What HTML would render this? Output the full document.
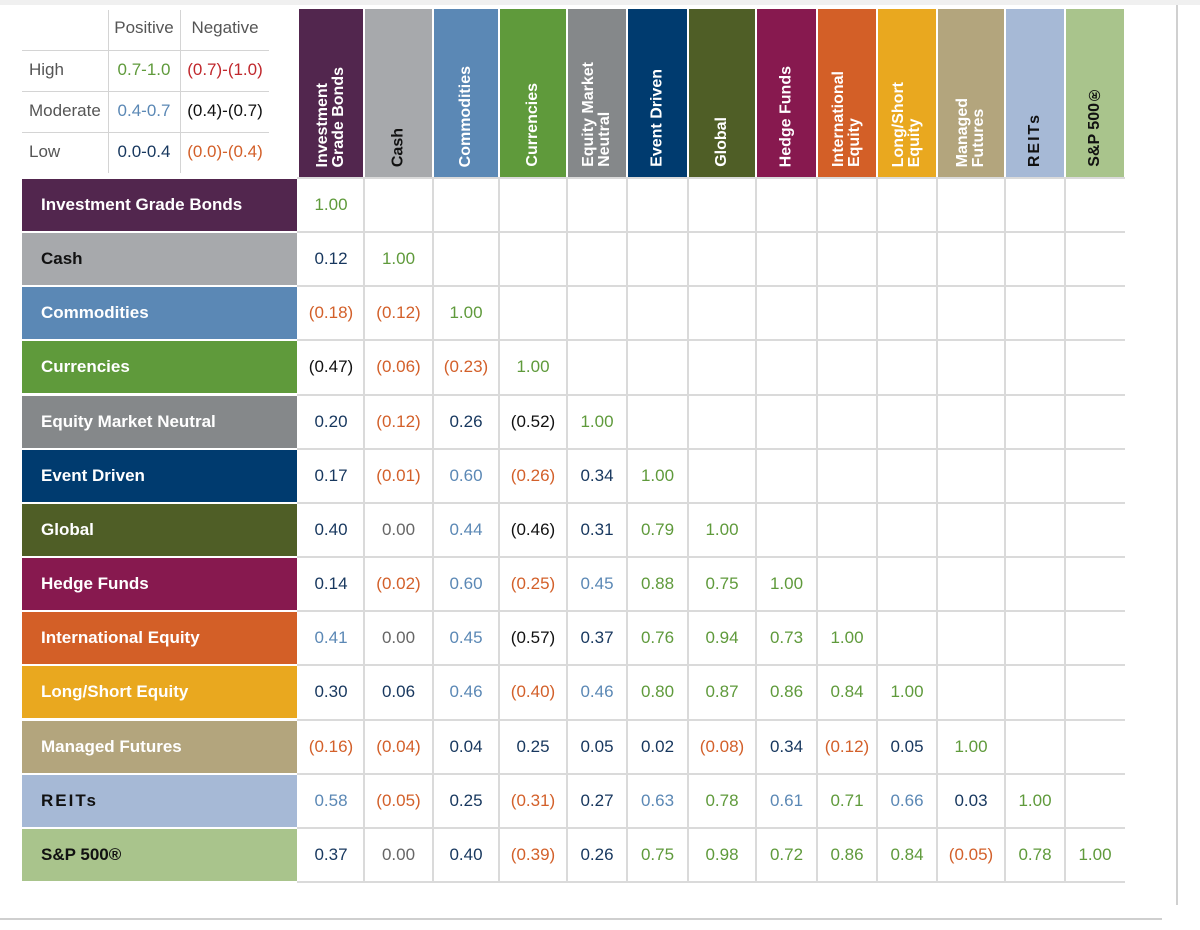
<!DOCTYPE html>
<html><head><meta charset="utf-8">
<style>
html,body{margin:0;padding:0;background:#fff;}
body{width:1200px;height:930px;position:relative;overflow:hidden;font-family:"Liberation Sans",sans-serif;}
.abs{position:absolute;}
.hdr{position:absolute;top:9px;height:168px;box-sizing:border-box;}
.hdr span{position:absolute;left:0;right:0;bottom:10px;writing-mode:vertical-rl;transform:rotate(180deg);font-size:16px;font-weight:bold;line-height:16px;text-align:left;display:flex;align-items:center;justify-content:center;height:auto;}
.rowlab{position:absolute;left:22px;width:275px;height:52px;font-size:17px;font-weight:600;line-height:52px;padding-left:19px;box-sizing:border-box;}
.cell{position:absolute;height:54px;line-height:54px;text-align:center;font-size:17px;}
.lg{position:absolute;font-size:17px;color:#555;}
</style></head><body>
<div class="abs" style="left:0;top:0;width:1200px;height:5px;background:#f0f0f0"></div>
<div class="abs" style="left:1176px;top:5px;width:2px;height:900px;background:#d0d0d0"></div>
<div class="abs" style="left:0;top:918px;width:1162px;height:2px;background:#cfcfcf"></div>

<div>
<div class="abs" style="left:108px;top:10px;width:1px;height:163px;background:#d4d4d4"></div>
<div class="abs" style="left:180px;top:10px;width:1px;height:163px;background:#d4d4d4"></div>
<div class="abs" style="left:22px;top:50px;width:247px;height:1px;background:#d4d4d4"></div>
<div class="abs" style="left:22px;top:91px;width:247px;height:1px;background:#d4d4d4"></div>
<div class="abs" style="left:22px;top:132px;width:247px;height:1px;background:#d4d4d4"></div>
<div class="lg" style="left:108px;width:72px;top:18px;text-align:center">Positive</div>
<div class="lg" style="left:180px;width:90px;top:18px;text-align:center">Negative</div>
<div class="lg" style="left:29px;top:60px">High</div>
<div class="lg" style="left:29px;top:101px">Moderate</div>
<div class="lg" style="left:29px;top:142px">Low</div>
<div class="lg" style="left:108px;width:72px;top:60px;text-align:center;color:#5f9a3b">0.7-1.0</div>
<div class="lg" style="left:180px;width:90px;top:60px;text-align:center;color:#c0282d">(0.7)-(1.0)</div>
<div class="lg" style="left:108px;width:72px;top:101px;text-align:center;color:#5b88b5">0.4-0.7</div>
<div class="lg" style="left:180px;width:90px;top:101px;text-align:center;color:#111">(0.4)-(0.7)</div>
<div class="lg" style="left:108px;width:72px;top:142px;text-align:center;color:#17375e">0.0-0.4</div>
<div class="lg" style="left:180px;width:90px;top:142px;text-align:center;color:#d3602a">(0.0)-(0.4)</div>
</div>

<div id="matrix"></div>

<script>
const categories = ["Investment Grade Bonds","Cash","Commodities","Currencies","Equity Market Neutral","Event Driven","Global","Hedge Funds","International Equity","Long/Short Equity","Managed Futures","REITs","S&P 500®"];
const headerLines = [["Investment","Grade Bonds"],["Cash"],["Commodities"],["Currencies"],["Equity Market","Neutral"],["Event Driven"],["Global"],["Hedge Funds"],["International","Equity"],["Long/Short","Equity"],["Managed","Futures"],["REITs"],["S&P 500®"]];
const rowIGB = [1.00];
const rowCash = [0.12,1.00];
const rowCommodities = [-0.18,-0.12,1.00];
const rowCurrencies = [-0.47,-0.06,-0.23,1.00];
const rowEMN = [0.20,-0.12,0.26,-0.52,1.00];
const rowEventDriven = [0.17,-0.01,0.60,-0.26,0.34,1.00];
const rowGlobal = [0.40,0.00,0.44,-0.46,0.31,0.79,1.00];
const rowHedgeFunds = [0.14,-0.02,0.60,-0.25,0.45,0.88,0.75,1.00];
const rowIntlEquity = [0.41,0.00,0.45,-0.57,0.37,0.76,0.94,0.73,1.00];
const rowLongShort = [0.30,0.06,0.46,-0.40,0.46,0.80,0.87,0.86,0.84,1.00];
const rowManagedFutures = [-0.16,-0.04,0.04,0.25,0.05,0.02,-0.08,0.34,-0.12,0.05,1.00];
const rowREITs = [0.58,-0.05,0.25,-0.31,0.27,0.63,0.78,0.61,0.71,0.66,0.03,1.00];
const rowSP500 = [0.37,0.00,0.40,-0.39,0.26,0.75,0.98,0.72,0.86,0.84,-0.05,0.78,1.00];
const rows = [rowIGB,rowCash,rowCommodities,rowCurrencies,rowEMN,rowEventDriven,rowGlobal,rowHedgeFunds,rowIntlEquity,rowLongShort,rowManagedFutures,rowREITs,rowSP500];

const catColors = ["#52264e","#a7a9ac","#5b88b5","#5f9a3b","#85888a","#003b6f","#4f5e26","#87194f","#d35f27","#e9a81f","#b3a57d","#a6b9d6","#a9c48c"];
const darkText = [false,true,false,false,false,false,false,false,false,false,false,true,true];
const colEdges = [298,364,433,499,567,627,688,756,817,877,937,1005,1065,1125];
const top0 = 178, rowH = 54.15;
function colX(i){return colEdges[i];}
function colW(i){return colEdges[i+1]-colEdges[i];}
function rowY(i){return top0 + i*rowH;}
function valColor(v){
  if (v===0) return "#666";
  if (v>=0.7) return "#5f9a3b";
  if (v>0.4) return "#5b88b5";
  if (v>0) return "#17375e";
  if (v<=-0.7) return "#c0282d";
  if (v<-0.4) return "#111";
  return "#d3602a";
}
function fmt(v){const s=Math.abs(v).toFixed(2);return v<0?"("+s+")":s;}
const m = document.getElementById('matrix');
for (let i=0;i<=categories.length;i++){
  const l=document.createElement('div');
  
  
  l.className='abs';
  l.style.cssText=`left:297px;top:${rowY(i)-1}px;width:${1125-297}px;height:2px;background:#dadada`;
  m.appendChild(l);
}
for (let j=1;j<categories.length;j++){
  const l=document.createElement('div');
  
  
  l.className='abs';
  l.style.cssText=`left:${colX(j)-1}px;top:${top0}px;width:2px;height:${rowH*13}px;background:#dadada`;
  m.appendChild(l);
}
categories.forEach((c,j)=>{
  const h=document.createElement('div');
  
  
  h.className='hdr';
  h.style.left=(colX(j)+1)+'px';
  h.style.width=(colW(j)-2)+'px';
  h.style.background=catColors[j];
  const s=document.createElement('span');
  s.innerHTML=headerLines[j].join('<br>');
  s.style.color=darkText[j]?'#111':'#fff';
  if(j===11) s.style.letterSpacing='2px';
  h.appendChild(s);
  m.appendChild(h);
  const r=document.createElement('div');
  
  
  r.className='rowlab';
  r.style.top=(rowY(j)+1)+'px';
  r.style.background=catColors[j];
  r.style.color=darkText[j]?'#111':'#fff';
  if(j===11) r.style.letterSpacing='2px';
  r.textContent=c;
  m.appendChild(r);
});
rows.forEach((vals,i)=>{
  vals.forEach((v,j)=>{
    const d=document.createElement('div');
    
    
    d.className='cell';
    d.style.left=colX(j)+'px';
    d.style.width=colW(j)+'px';
    d.style.top=rowY(i)+'px';
    d.style.color=valColor(v);
    d.textContent=fmt(v);
    m.appendChild(d);
  });
});
</script>
</body></html>
